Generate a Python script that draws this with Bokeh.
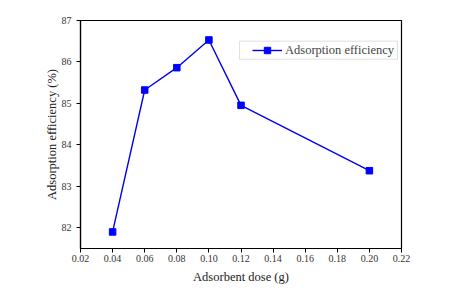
from bokeh.plotting import figure
from bokeh.models import Range1d, FixedTicker, Legend, LegendItem, BoxAnnotation
from bokeh.embed import file_html
from bokeh.resources import INLINE

dose = [0.04, 0.06, 0.08, 0.10, 0.12, 0.20]
efficiency = [81.89, 85.32, 85.86, 86.53, 84.95, 83.37]
x_ticks = [0.02, 0.04, 0.06, 0.08, 0.10, 0.12, 0.14, 0.16, 0.18, 0.20, 0.22]
y_ticks = [82, 83, 84, 85, 86, 87]

FONT = "Liberation Serif"

p = figure(width=444, height=289, output_backend="svg", toolbar_location=None,
           x_range=Range1d(0.02, 0.22), y_range=Range1d(81.49, 87.0),
           min_border_left=80, min_border_top=20, min_border_right=43, min_border_bottom=41)
p.grid.visible = False
p.outline_line_color = "black"
p.outline_line_width = 1.2

# legend frame (gray box)
p.add_layout(BoxAnnotation(left=0.1191, right=0.2175, top=86.50, bottom=86.065,
                           fill_color="white", fill_alpha=1,
                           line_color="#999999", line_width=1, level="annotation"))

line = p.line(dose, efficiency, line_color="#0000ee", line_width=1.4)
pts = p.scatter(dose, efficiency, marker="square", size=6.5, fill_color="#0000ff", line_color="#0000ff")

for ax in (p.xaxis[0], p.yaxis[0]):
    ax.major_label_text_font = FONT
    ax.major_label_text_font_size = "10px"
    ax.major_label_text_color = "#333333"
    ax.axis_label_text_font = FONT
    ax.axis_label_text_font_size = "12.5px"
    ax.axis_label_text_font_style = "normal"
    ax.axis_label_text_color = "#222222"
    ax.minor_tick_line_color = None
    ax.major_tick_out = 4
    ax.major_tick_in = 0
    ax.axis_line_width = 1.2

p.xaxis.ticker = FixedTicker(ticks=x_ticks)
p.yaxis.ticker = FixedTicker(ticks=y_ticks)
p.xaxis.major_label_overrides = {t: f"{t:.2f}" for t in x_ticks}
p.xaxis.axis_label = "Adsorbent dose (g)"
p.yaxis.axis_label = "Adsorption efficiency (%)"
p.xaxis.major_label_standoff = 2
p.xaxis.axis_label_standoff = 5
p.yaxis.axis_label_standoff = 0

legend = Legend(items=[LegendItem(label="Adsorption efficiency", renderers=[line, pts])],
                label_text_font=FONT, label_text_font_size="12.5px",
                border_line_color=None, background_fill_alpha=0,
                padding=0, spacing=0, margin=0, glyph_width=30, glyph_height=16,
                label_standoff=3, label_height=16)
legend.location = (172, 190)
p.add_layout(legend)

open("out.html", "w").write(file_html(p, INLINE))
